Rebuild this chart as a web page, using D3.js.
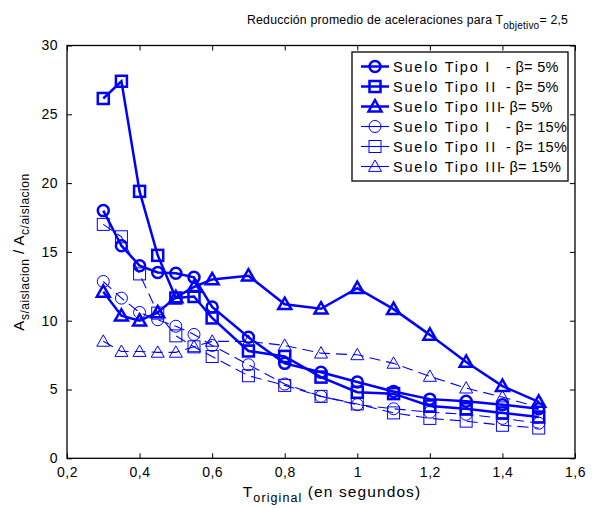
<!DOCTYPE html>
<html><head><meta charset="utf-8">
<script src="https://cdn.jsdelivr.net/npm/d3@7"></script>
<style>
body{margin:0;background:#fff;}
text{font-family:"Liberation Sans",Arial,sans-serif;fill:#000;}
</style></head>
<body>
<svg id="c" width="596" height="508"></svg>
<script>
const periods = [0.3,0.35,0.4,0.45,0.5,0.55,0.6,0.7,0.8,0.9,1.0,1.1,1.2,1.3,1.4,1.5];
const tipoI_5   = [18.0,15.45,14.0,13.5,13.45,13.15,11.0,8.8,6.9,6.25,5.55,4.85,4.3,4.15,3.9,3.6];
const tipoII_5  = [26.15,27.4,19.4,14.75,11.65,11.76,10.2,7.8,7.4,5.9,4.8,4.7,3.8,3.6,3.3,3.0];
const tipoIII_5 = [12.1,10.36,10.0,10.6,11.7,12.45,13.0,13.27,11.2,10.87,12.37,10.84,8.97,7.0,5.25,4.1];
const tipoI_15  = [12.85,11.64,10.6,10.07,9.6,9.0,8.2,6.8,5.4,4.5,3.9,3.6,3.35,3.2,2.9,2.55];
const tipoII_15 = [17.0,16.1,13.4,10.55,8.9,8.1,7.4,6.0,5.3,4.5,3.95,3.3,2.9,2.7,2.4,2.2];
const tipoIII_15= [8.5,7.76,7.76,7.7,7.7,8.1,8.5,8.5,8.2,7.64,7.52,6.9,5.95,5.1,4.45,3.7];
const xTicks = [0.2,0.4,0.6,0.8,1.0,1.2,1.4,1.6];
const xTickLabels = ["0,2","0,4","0,6","0,8","1","1,2","1,4","1,6"];
const yTicks = [0,5,10,15,20,25,30];
const seriesNames = ["Suelo Tipo I","Suelo Tipo II","Suelo Tipo III","Suelo Tipo I","Suelo Tipo II","Suelo Tipo III"];
const seriesBeta = ["- β= 5%","- β= 5%","- β= 5%","- β= 15%","- β= 15%","- β= 15%"];
const seriesValues = [tipoI_5,tipoII_5,tipoIII_5,tipoI_15,tipoII_15,tipoIII_15];
const seriesMarker = ["circle","square","triangle","circle","square","triangle"];
const seriesThick = [true,true,true,false,false,false];

const svg = d3.select("#c");
const L=67,R=575,T=45.5,B=458.3;
const x = d3.scaleLinear().domain([0.2,1.6]).range([L,R]);
const y = d3.scaleLinear().domain([0,30]).range([B,T]);
const blue="#0000ff";

svg.append("rect").attr("x",L).attr("y",T).attr("width",R-L).attr("height",B-T)
  .attr("fill","none").attr("stroke","#000").attr("stroke-width",1.3);

const fmtX = d=>xTickLabels[xTicks.indexOf(d)];
const gx = svg.append("g").attr("transform",`translate(0,${B})`)
  .call(d3.axisBottom(x).tickValues(xTicks).tickSizeInner(-5).tickSizeOuter(0).tickPadding(9).tickFormat(fmtX));
const gxt = svg.append("g").attr("transform",`translate(0,${T})`)
  .call(d3.axisTop(x).tickValues(xTicks).tickSizeInner(-5).tickSizeOuter(0).tickFormat(""));
const gy = svg.append("g").attr("transform",`translate(${L},0)`)
  .call(d3.axisLeft(y).tickValues(yTicks).tickSizeInner(-5).tickSizeOuter(0).tickPadding(9));
const gyr = svg.append("g").attr("transform",`translate(${R},0)`)
  .call(d3.axisRight(y).tickValues(yTicks).tickSizeInner(-5).tickSizeOuter(0).tickFormat(""));
[gx,gxt,gy,gyr].forEach(g=>{g.select(".domain").remove();
  g.selectAll("line").attr("stroke","#000");
  g.selectAll("text").style("font-family","Liberation Sans, Arial, sans-serif").style("font-size","14px")
    .style("letter-spacing","0.5px").attr("fill","#000");});
gy.selectAll("text").attr("dy","0.32em");

const line = d3.line().x((d,i)=>x(periods[i])).y(d=>y(d));
const plot = svg.append("g");

function marker(g, type, cx, cy, thick){
  const sw = thick?2.5:1;
  if(type==="circle"){
    g.append("circle").attr("cx",cx).attr("cy",cy).attr("r",thick?5.5:6)
      .attr("fill","none").attr("stroke",blue).attr("stroke-width",sw);
  } else if(type==="square"){
    const s = thick?5.5:6;
    g.append("rect").attr("x",cx-s).attr("y",cy-s).attr("width",2*s).attr("height",2*s)
      .attr("fill","none").attr("stroke",blue).attr("stroke-width",sw);
  } else {
    const h=6.5;
    g.append("path").attr("d",`M${cx},${cy-h}L${cx+h},${cy+h*0.75}L${cx-h},${cy+h*0.75}Z`)
      .attr("fill","none").attr("stroke",blue).attr("stroke-width",sw).attr("stroke-linejoin","miter");
  }
}

[3,4,5,0,1,2].forEach(k=>{
  const vals = seriesValues[k];
  const thick = seriesThick[k];
  plot.append("path").datum(vals).attr("d",line).attr("fill","none").attr("stroke",blue)
    .attr("stroke-width",thick?2.5:1.1).attr("stroke-dasharray",thick?null:"11,6");
  vals.forEach((v,i)=>marker(plot,seriesMarker[k],x(periods[i]),y(v),thick));
});

// legend
const lg = svg.append("g");
lg.append("rect").attr("x",352).attr("y",52).attr("width",216).attr("height",129)
  .attr("fill","#fff").attr("stroke","#000").attr("stroke-width",1.3);
seriesNames.forEach((n,k)=>{
  const yy = 66.5 + k*20;
  const thick = seriesThick[k];
  lg.append("line").attr("x1",361).attr("x2",389).attr("y1",yy).attr("y2",yy)
    .attr("stroke",blue).attr("stroke-width",thick?2.5:1.1);
  marker(lg,seriesMarker[k],375,yy,thick);
  lg.append("text").attr("x",393).attr("y",yy).attr("dy","0.36em").style("font-size","14.5px")
    .style("letter-spacing","1.8px").text(n);
  lg.append("text").attr("x",k%3===2?500:506).attr("y",yy).attr("dy","0.36em").style("font-size","14.5px")
    .style("letter-spacing","0.3px").text(seriesBeta[k]);
});

// title
const t = svg.append("text").attr("x",247).attr("y",24).style("font-size","12.3px").style("letter-spacing","0.2px");
t.append("tspan").text("Reducción promedio de aceleraciones para T");
t.append("tspan").attr("dy",5).style("font-size","10px").text("objetivo");
t.append("tspan").attr("dy",-5).text("= 2,5");

// x label
const xl = svg.append("text").attr("x",332).attr("y",497).attr("text-anchor","middle").style("font-size","15.5px").style("letter-spacing","1.1px");
xl.append("tspan").text("T");
xl.append("tspan").attr("dy",5).style("font-size","12.5px").text("original");
xl.append("tspan").attr("dy",-5).text(" (en segundos)");

// y label
const yl = svg.append("text").attr("transform","translate(24,252) rotate(-90)").attr("text-anchor","middle").style("font-size","15px").style("letter-spacing","0.5px");
yl.append("tspan").text("A");
yl.append("tspan").attr("dy",5).style("font-size","12px").text("s/aislacion");
yl.append("tspan").attr("dy",-5).text(" / A");
yl.append("tspan").attr("dy",5).style("font-size","12px").text("c/aislacion");
</script>
</body></html>
